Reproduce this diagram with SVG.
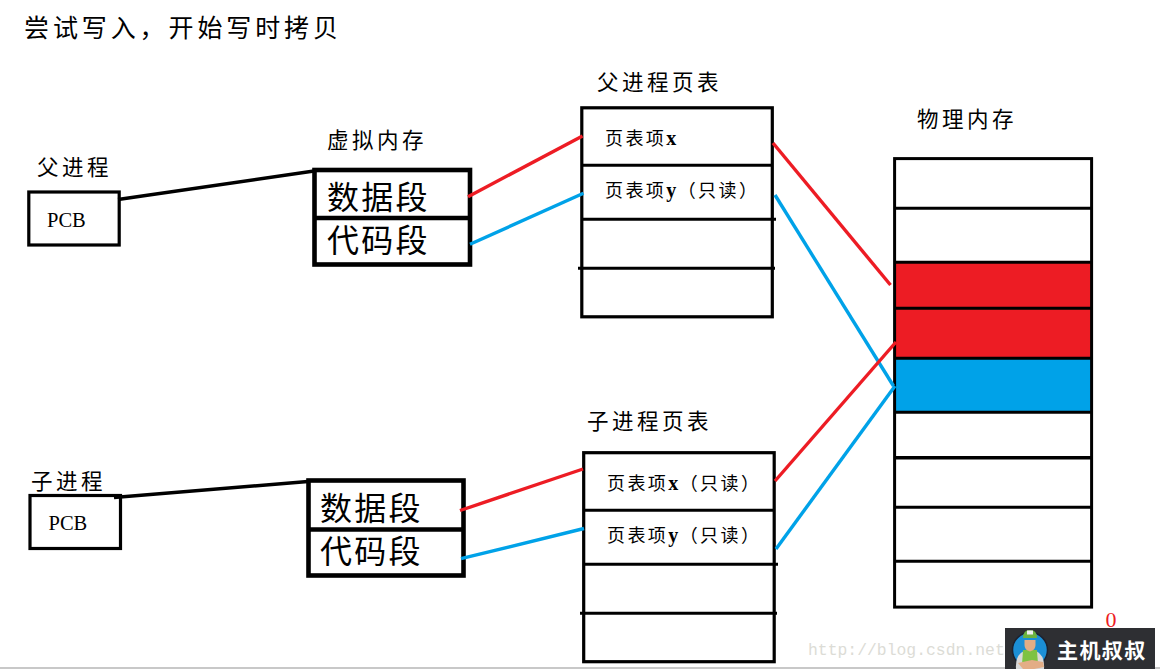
<svg xmlns="http://www.w3.org/2000/svg" width="1160" height="669" viewBox="0 0 1160 669">
<style>
text{font-family:"Liberation Serif","Noto Sans CJK SC",serif;fill:#000}
.title{font-size:25px;letter-spacing:3.9px}
.lab{font-size:21.5px;letter-spacing:3.5px}
.seg{font-size:32px;letter-spacing:2.2px}
.pcb{font-size:20.5px}
.ent{font-size:18px;letter-spacing:2.4px}
.v{font-size:20px;font-weight:700;letter-spacing:1.5px}
.box{fill:#fff;stroke:#000;stroke-width:3.2}
.thick{fill:#fff;stroke:#000;stroke-width:4.6}
.div{stroke:#000;stroke-width:3;fill:none}
.c{fill:none;stroke-width:3.4}
.k{stroke:#000;stroke-width:3.4;fill:none}
.r{stroke:#ed1c24}
.b{stroke:#00a2e8}
</style>
<rect width="1160" height="669" fill="#fff"/>
<text class="title" x="24" y="37">尝试写入，开始写时拷贝</text>

<g id="parent-process">
<text class="lab" x="37" y="175">父进程</text>
<rect class="box" x="28.8" y="192" width="90.4" height="53"/>
<text class="pcb" x="47" y="227">PCB</text>
</g>
<g id="child-process">
<text class="lab" x="31" y="489">子进程</text>
<rect class="box" x="30" y="495.5" width="90.5" height="53"/>
<text class="pcb" x="48.5" y="529.5">PCB</text>
</g>
<g id="parent-vm">
<text class="lab" x="327" y="148">虚拟内存</text>
<rect class="thick" x="314.5" y="170" width="155.5" height="94.5"/>
<line class="thick" x1="314.5" y1="218" x2="470" y2="218"/>
<text class="seg" x="327" y="209">数据段</text>
<text class="seg" x="327" y="252">代码段</text>
</g>
<g id="child-vm">
<rect class="thick" x="308.5" y="480.5" width="155" height="95"/>
<line class="thick" x1="308.5" y1="529.5" x2="463.5" y2="529.5"/>
<text class="seg" x="320" y="520">数据段</text>
<text class="seg" x="320" y="563">代码段</text>
</g>
<g id="parent-page-table">
<text class="lab" x="597" y="90">父进程页表</text>
<rect class="box" x="581.8" y="107.8" width="190.5" height="209"/>
<line class="div" x1="581" y1="165.3" x2="773" y2="165.3"/>
<line class="div" x1="581" y1="219.3" x2="776" y2="219.3"/>
<line class="div" x1="578" y1="268.3" x2="775" y2="268.3"/>
<text class="ent" x="605" y="145">页表项<tspan class="v">x</tspan></text>
<text class="ent" x="605" y="197">页表项<tspan class="v">y</tspan>（只读）</text>
</g>
<g id="child-page-table">
<text class="lab" x="587" y="429">子进程页表</text>
<rect class="box" x="583.7" y="452.7" width="190.5" height="209"/>
<line class="div" x1="583" y1="510.3" x2="775" y2="510.3"/>
<line class="div" x1="583" y1="564.3" x2="778" y2="564.3"/>
<line class="div" x1="580" y1="613.3" x2="777" y2="613.3"/>
<text class="ent" x="607" y="490">页表项<tspan class="v">x</tspan>（只读）</text>
<text class="ent" x="607" y="542">页表项<tspan class="v">y</tspan>（只读）</text>
</g>
<g id="physical-memory">
<text class="lab" x="917" y="127">物理内存</text>
<rect x="894.5" y="262" width="197" height="47" fill="#ed1c24"/>
<rect x="894.5" y="308" width="197" height="51" fill="#ed1c24"/>
<rect x="894.5" y="358" width="197" height="54" fill="#00a2e8"/>
<rect x="894.6" y="158.6" width="197" height="448.5" fill="none" stroke="#000" stroke-width="3"/>
<line class="div" x1="894" y1="208.3" x2="1092" y2="208.3" stroke-width="2.6"/>
<line class="div" x1="894" y1="262.3" x2="1092" y2="262.3"/>
<line class="div" x1="894" y1="308.3" x2="1092" y2="308.3"/>
<line class="div" x1="894" y1="358.3" x2="1092" y2="358.3"/>
<line class="div" x1="894" y1="412.3" x2="1092" y2="412.3"/>
<line x1="894" y1="457.8" x2="1092" y2="457.8" stroke="#000" stroke-width="3.6"/>
<line class="div" x1="894" y1="507.3" x2="1092" y2="507.3"/>
<line class="div" x1="894" y1="561.3" x2="1092" y2="561.3"/>
</g>
<g id="connectors">
<line class="k" x1="118" y1="199.5" x2="314" y2="171"/>
<line class="k" x1="114" y1="497.5" x2="308" y2="481.5"/>
<line class="c r" x1="468" y1="196.7" x2="582.5" y2="136"/>
<line class="c b" x1="470" y1="244.3" x2="583.5" y2="193.3"/>
<line class="c r" x1="460" y1="510.5" x2="583" y2="469"/>
<line class="c b" x1="461" y1="558.7" x2="584" y2="528.5"/>
<line class="c r" x1="773" y1="143" x2="890.5" y2="285"/>
<line class="c b" x1="775" y1="195" x2="893.5" y2="386"/>
<line class="c r" x1="775" y1="481" x2="896" y2="342"/>
<line class="c b" x1="776" y1="549" x2="895" y2="386"/>
</g>
<g id="watermark">
<rect x="0" y="667" width="1160" height="2" fill="#c8c8c8"/>
<text x="808" y="655" style="font-family:'Liberation Mono',monospace;font-size:16.4px;fill:#dcdcd6">http://blog.csdn.net</text>
<rect x="1005" y="628" width="150" height="41" fill="#2e2f33"/>
<circle cx="1030" cy="650" r="17.5" fill="#1b8fd6" stroke="#1c2230" stroke-width="1.5"/>
<path d="M1016 669q-1-14 8-18h12q9 4 8 18z" fill="#d8d8d8"/>
<path d="M1023 650h14l1 15h-16z" fill="#7ec242"/>
<path d="M1018 663l14-3 11 2 1 5-10 2h-11z" fill="#e3ad86"/>
<path d="M1024.500 640h11v5q0 5-5.500 6.500q-5.500-1.500-5.500-6.500z" fill="#e3ad86"/>
<path d="M1023 638q0-8 7-8t7 8z" fill="#6cb33f"/>
<path d="M1027 630.500h6v4h-6z" fill="#eee"/>
<text x="1057" y="658" style="font-size:21px;font-weight:700;letter-spacing:1.4px;fill:#fff">主机叔叔</text>
<text x="1105.500" y="627" style="font-size:22px;fill:#ed1c24">0</text>
</g>
</svg>
